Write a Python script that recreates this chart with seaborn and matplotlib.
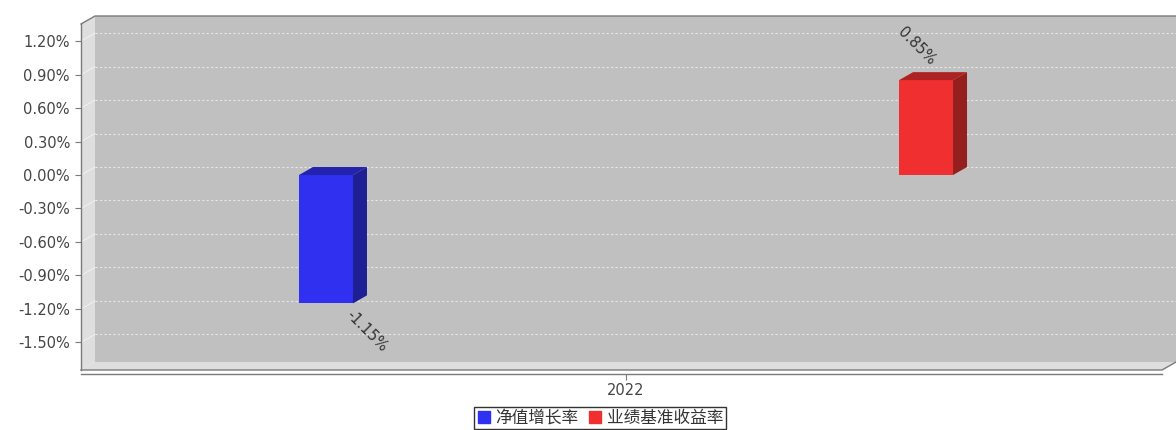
import matplotlib
matplotlib.use("Agg")
import matplotlib.pyplot as plt
import seaborn as sns
import pandas as pd
import numpy as np
from matplotlib.transforms import IdentityTransform
from matplotlib.patches import Polygon
from matplotlib.lines import Line2D

# ---- data ----
categories = ["2022"]
series_names = ["净值增长率", "业绩基准收益率"]
series_values = [-1.15, 0.85]
value_labels = ["-1.15%", "0.85%"]
y_ticks = [-1.5, -1.2, -0.9, -0.6, -0.3, 0.0, 0.3, 0.6, 0.9, 1.2]
y_tick_labels = ["-1.50%", "-1.20%", "-0.90%", "-0.60%", "-0.30%",
                 "0.00%", "0.30%", "0.60%", "0.90%", "1.20%"]
colors = ["#3030f0", "#f03030"]

df = pd.DataFrame({"year": categories * len(series_names),
                   "series": series_names,
                   "value": series_values})

W, H = 1176, 430
fig = plt.figure(figsize=(W / 100, H / 100), dpi=100)
ax = fig.add_axes([81 / W, 60 / H, 1081 / W, 346 / H])
ax.set_facecolor("none")

sns.barplot(data=df, x="year", y="value", hue="series", hue_order=series_names,
            palette=colors, width=0.8, gap=0.91, saturation=1, ax=ax,
            legend=False, edgecolor="none", zorder=3)

ax.set_xlim(-0.3633, 0.3573)
ax.set_ylim(-1.747, 1.353)
ax.set_xlabel("")
ax.set_ylabel("")
ax.set_yticks(y_ticks)
ax.set_yticklabels(y_tick_labels)

for s in ["top", "right"]:
    ax.spines[s].set_visible(False)
ax.spines["left"].set_color("#7a7a7a")
ax.spines["left"].set_linewidth(1.0)
ax.spines["bottom"].set_color("#7a7a7a")
ax.spines["bottom"].set_linewidth(1.0)
ax.spines["bottom"].set_position(("outward", 3))
ax.tick_params(axis="y", length=4, width=0.8, color="#7a7a7a", labelcolor="#444444",
               labelsize=10.5, pad=4)
ax.tick_params(axis="x", length=4, width=0.8, color="#7a7a7a", labelcolor="#444444",
               labelsize=10.5, pad=2.5)

DX, DY = 14, 8
x0, y0 = ax.transAxes.transform((0, 0))
x1, y1 = ax.transAxes.transform((1, 1))
idt = IdentityTransform()

def poly(pts, fc, z, ec="none", lw=0):
    p = Polygon(pts, closed=True, facecolor=fc, edgecolor=ec, linewidth=lw,
                transform=idt, clip_on=False, zorder=z)
    ax.add_artist(p)

def line(xs, ys, c, z, lw=1.0, ls="-", dashes=None):
    l = Line2D(xs, ys, color=c, lw=lw, ls=ls, transform=idt, clip_on=False, zorder=z)
    if dashes:
        l.set_dashes(dashes)
    ax.add_artist(l)

# back wall
poly([(x0 + DX, y0 + DY), (x1 + DX, y0 + DY), (x1 + DX, y1 + DY), (x0 + DX, y1 + DY)],
     "#c0c0c0", 0.1)
# side wall
poly([(x0, y0), (x0 + DX, y0 + DY), (x0 + DX, y1 + DY), (x0, y1)], "#dedede", 0.2)
# floor
poly([(x0, y0), (x1, y0), (x1 + DX, y0 + DY), (x0 + DX, y0 + DY)], "#dedede", 0.2)
# borders
line([x0, x0 + DX, x1 + DX], [y1, y1 + DY, y1 + DY], "#7a7a7a", 0.5, lw=1.0)
line([x0, x1, x1 + DX], [y0, y0, y0 + DY], "#7a7a7a", 0.5, lw=1.0)

# grid lines
for t in y_ticks:
    yd = ax.transData.transform((0, t))[1]
    line([x0 + DX, x1 + DX], [yd + DY, yd + DY], "#e6e6e6", 0.3, lw=0.8, dashes=(2, 2))
    line([x0, x0 + DX], [yd, yd + DY], "#f4f4f4", 0.3, lw=0.6)

# 3d bar faces
def shade(c, f):
    c = np.array(matplotlib.colors.to_rgb(c))
    return tuple(c * f)

bars = [p for p in ax.patches if isinstance(p, matplotlib.patches.Rectangle)]
for bar in bars:
    bx, by, bw, bh = bar.get_x(), bar.get_y(), bar.get_width(), bar.get_height()
    (px0, py0) = ax.transData.transform((bx, min(by, by + bh)))
    (px1, py1) = ax.transData.transform((bx + bw, max(by, by + bh)))
    fc = bar.get_facecolor()
    poly([(px0, py1), (px1, py1), (px1 + DX, py1 + DY), (px0 + DX, py1 + DY)],
         shade(fc, 0.72), 3.1)
    poly([(px1, py0), (px1, py1), (px1 + DX, py1 + DY), (px1 + DX, py0 + DY)],
         shade(fc, 0.62), 3.1)

# value labels
for bar, v, lab in zip(bars, series_values, value_labels):
    cx = bar.get_x() + bar.get_width() / 2
    if v < 0:
        ax.annotate(lab, xy=(cx, v), xytext=(22, -9), textcoords="offset pixels",
                    rotation=-45, rotation_mode="anchor", ha="left", va="center",
                    fontsize=10.5, color="#333333", zorder=5, annotation_clip=False)
    else:
        ax.annotate(lab, xy=(cx, v), xytext=(7, 18), textcoords="offset pixels",
                    rotation=-45, rotation_mode="anchor", ha="right", va="center",
                    fontsize=10.5, color="#333333", zorder=5, annotation_clip=False)

# legend
handles = [Line2D([], [], marker="s", ls="none", markersize=8, markerfacecolor=c,
                  markeredgecolor=c) for c in colors]
leg = fig.legend(handles, series_names, loc="upper center",
                 bbox_to_anchor=(600 / W, 1 - 407 / H), ncol=2, frameon=True,
                 fancybox=False, edgecolor="black", handlelength=0.8,
                 handletextpad=0.3, columnspacing=0.6, borderpad=0.15,
                 borderaxespad=0.0,
                 prop={"family": ["Noto Sans CJK SC", "DejaVu Sans"], "size": 12})
leg.get_frame().set_linewidth(1.0)
for t in leg.get_texts():
    t.set_color("#333333")

fig.savefig("out.png", dpi=100)
